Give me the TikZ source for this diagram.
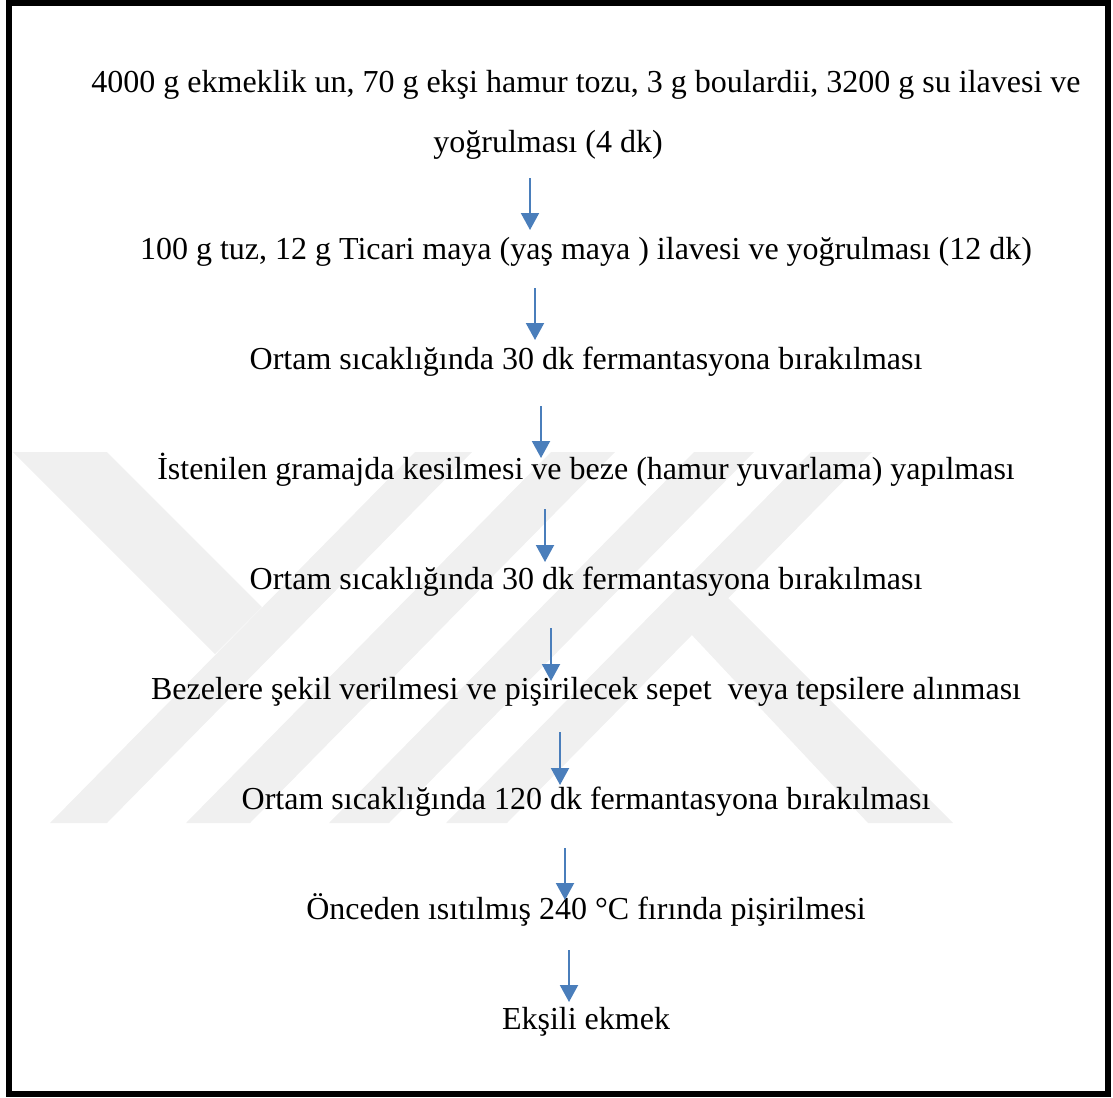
\documentclass[tikz,border=0pt]{standalone}
\usepackage{fontspec}
\setmainfont{Liberation Serif}
\usetikzlibrary{arrows.meta, positioning}
\definecolor{arrblue}{HTML}{4A7EBB}
\definecolor{markgray}{HTML}{F0F0F0}
\tikzset{%
    txtsty/.style={
        inner sep=0pt,
        anchor=base,
        font=\fontsize{32}{38}\selectfont,
    },
    arrsty/.style={
        draw=arrblue,
        line width=2pt,
        -{Triangle[length=17pt,width=18pt]},
    },
    marksty/.style={
        fill=markgray,
        draw=none,
    },
    framesty/.style={
        draw,
        line width=6pt,
    },
}

\begin{document}
\begin{tikzpicture}[x=1pt,y=-1pt]
\useasboundingbox (0,0) rectangle (1113,1097);

% watermark in the back
\begin{scope}
\clip (12,452) rectangle (1104,823);
\fill[marksty] (10,452) -- (107,452) -- (262,607) -- (215,654) -- (10,449) -- cycle;
\fill[marksty] (50,823) -- (107,823) -- (472,452) -- (415,452) -- cycle;
\fill[marksty] (186,823) -- (250,823) -- (615,452) -- (551,452) -- cycle;
\fill[marksty] (329,823) -- (389,823) -- (754,452) -- (694,452) -- cycle;
\fill[marksty] (446,823) -- (507,823) -- (872,452) -- (811,452) -- cycle;
\fill[marksty] (690,633) -- (728,598) -- (953,823) -- (868,823) -- cycle;
\end{scope}

% frame
\draw[framesty] (9,3) rectangle (1108,1094);

% step nodes
\node (s1) [txtsty] at (586,93) {4000 g ekmeklik un, 70 g ekşi hamur tozu, 3 g boulardii, 3200 g su ilavesi ve};
\node (s1b) [txtsty] at (548,152) {yoğrulması (4 dk)};
\node (s2) [txtsty] at (586,259) {100 g tuz, 12 g Ticari maya (yaş maya ) ilavesi ve yoğrulması (12 dk)};
\node (s3) [txtsty,below=110pt of s2.base,anchor=base] {Ortam sıcaklığında 30 dk fermantasyona bırakılması};
\node (s4) [txtsty,below=110pt of s3.base,anchor=base] {İstenilen gramajda kesilmesi ve beze (hamur yuvarlama) yapılması};
\node (s5) [txtsty,below=110pt of s4.base,anchor=base] {Ortam sıcaklığında 30 dk fermantasyona bırakılması};
\node (s6) [txtsty,below=110pt of s5.base,anchor=base] {Bezelere şekil verilmesi ve pişirilecek sepet~ veya tepsilere alınması};
\node (s7) [txtsty,below=110pt of s6.base,anchor=base] {Ortam sıcaklığında 120 dk fermantasyona bırakılması};
\node (s8) [txtsty,below=110pt of s7.base,anchor=base] {Önceden ısıtılmış 240 °C fırında pişirilmesi};
\node (s9) [txtsty,below=110pt of s8.base,anchor=base] {Ekşili ekmek};

% arrows
\draw[arrsty] ([xshift=-18pt,yshift=-26pt]s1b.base) -- ([xshift=-56pt,yshift=29pt]s2.base);
\draw[arrsty] ([xshift=-51pt,yshift=-29pt]s2.base) -- ([xshift=-51pt,yshift=29pt]s3.base);
\draw[arrsty] ([xshift=-45pt,yshift=-37pt]s3.base) -- ([xshift=-45pt,yshift=21pt]s4.base);
\draw[arrsty] ([xshift=-41pt,yshift=-30pt]s4.base) -- ([xshift=-41pt,yshift=27pt]s5.base);
\draw[arrsty] ([xshift=-35pt,yshift=-39pt]s5.base) -- ([xshift=-35pt,yshift=18pt]s6.base);
\draw[arrsty] ([xshift=-26pt,yshift=-33pt]s6.base) -- ([xshift=-26pt,yshift=24pt]s7.base);
\draw[arrsty] ([xshift=-21pt,yshift=-39pt]s7.base) -- ([xshift=-21pt,yshift=19pt]s8.base);
\draw[arrsty] ([xshift=-17pt,yshift=-31pt]s8.base) -- ([xshift=-17pt,yshift=27pt]s9.base);

\end{tikzpicture}
\end{document}
